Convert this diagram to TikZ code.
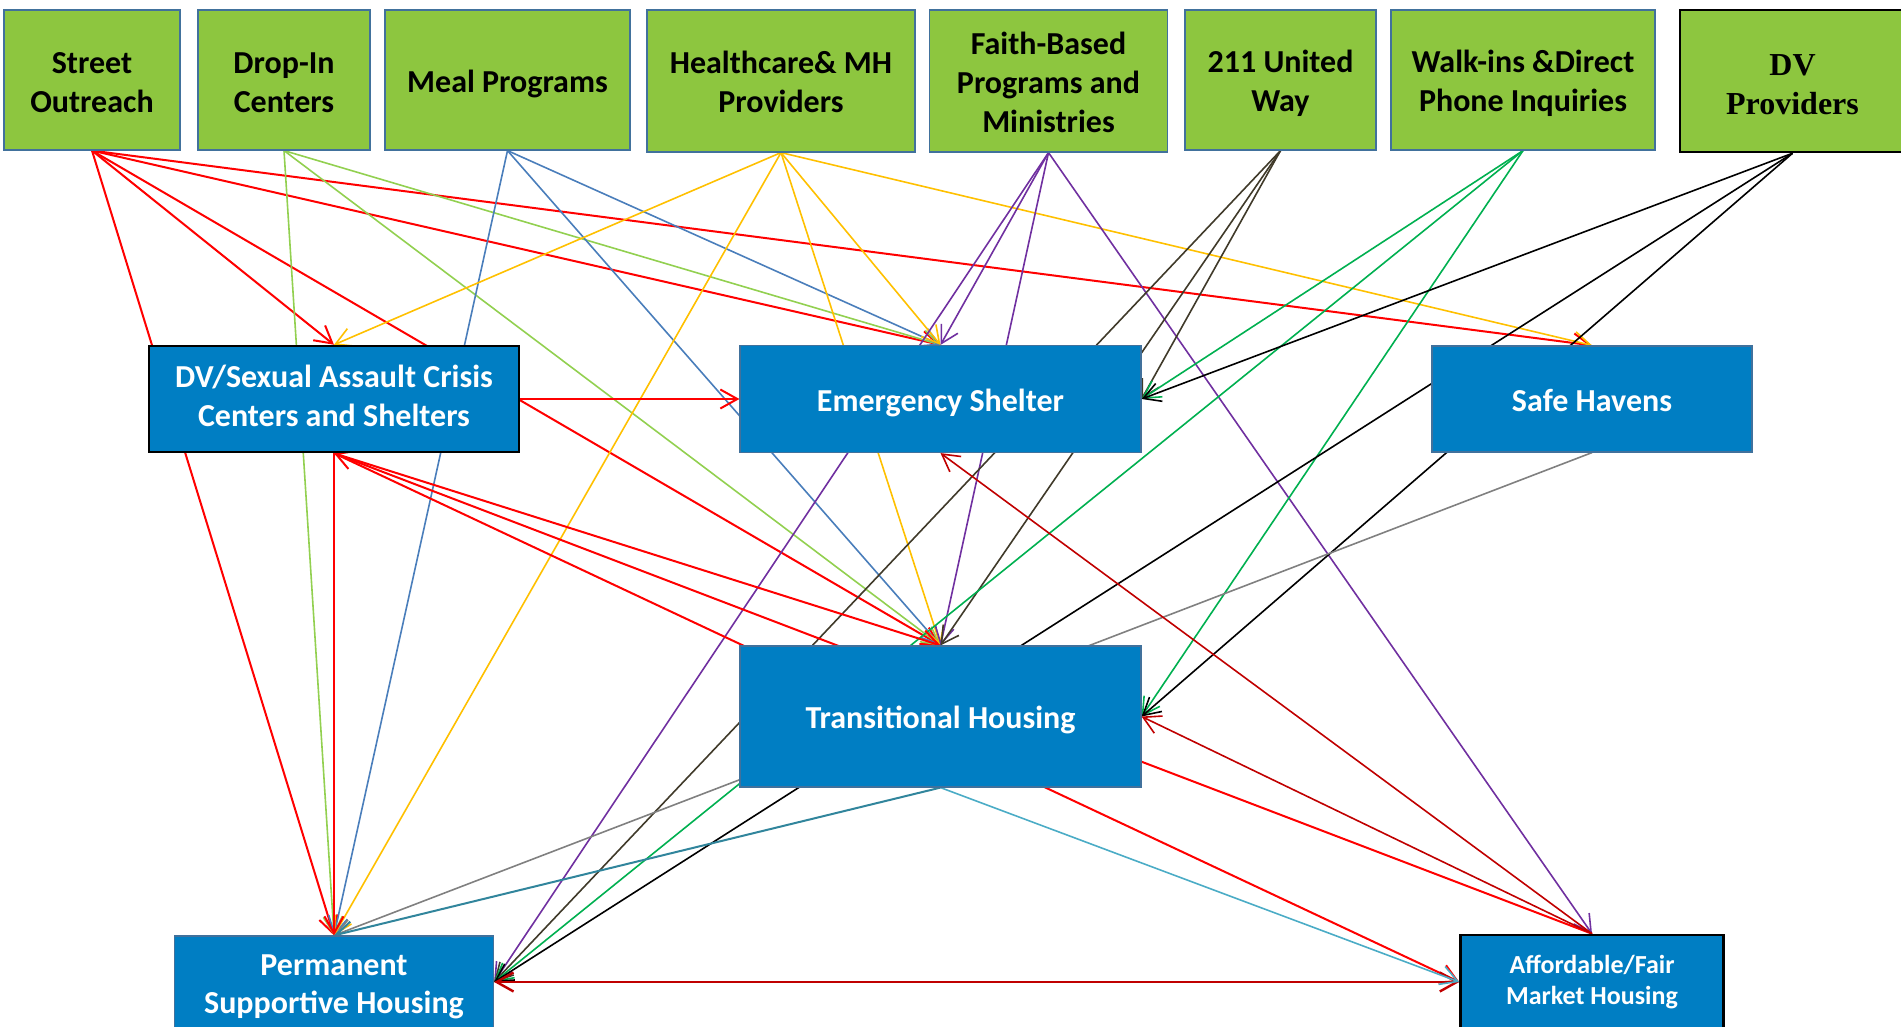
\documentclass[tikz,border=0pt]{standalone}
\usepackage{fontspec}
\setmainfont{Carlito}
\newfontfamily\dvfont{Liberation Serif}
\usepackage{tikz}
\usetikzlibrary{arrows.meta,positioning,backgrounds}
\definecolor{srcgreen}{RGB}{141,198,63}
\definecolor{svcblue}{RGB}{0,126,195}
\definecolor{boxedge}{RGB}{65,113,156}
\definecolor{lnred}{RGB}{255,0,0}
\definecolor{lndred}{RGB}{192,0,0}
\definecolor{lnlgreen}{RGB}{146,208,80}
\definecolor{lnblue}{RGB}{74,126,187}
\definecolor{lnamber}{RGB}{255,192,0}
\definecolor{lnpurple}{RGB}{112,48,160}
\definecolor{lnolive}{RGB}{64,58,42}
\definecolor{lngreen}{RGB}{0,176,80}
\definecolor{lngray}{RGB}{128,128,128}
\definecolor{lnteal}{RGB}{49,133,156}
\definecolor{lnsky}{RGB}{75,172,198}
\newcommand{\tstrut}[1]{\rule{0pt}{#1pt}}
\newcommand{\bstrut}[1]{\rule[-#1pt]{0pt}{0pt}}
\tikzstyle{source} = [rectangle, inner sep=0pt, text centered, align=center, draw=boxedge, line width=1.2pt, fill=srcgreen, font=\fontsize{32}{39}\selectfont\bfseries]
\tikzstyle{service} = [rectangle, inner sep=0pt, text centered, align=center, draw=boxedge, line width=1.2pt, fill=svcblue, text=white, font=\fontsize{32}{39}\selectfont\bfseries]
\tikzstyle{arrow} = [->, >={Straight Barb[length=17pt,width=19pt]}, line width=1.6pt]

\begin{document}
\begin{tikzpicture}[x=1pt, y=-1pt, node distance=240pt]
\useasboundingbox (0,0) rectangle (1901,1027);
\clip (0,0) rectangle (1901,1027);

% Nodes
\node (so) [source, minimum width=176pt, minimum height=140pt] at (92,80) {\tstrut{26}Street\\Outreach};
\node (di) [source, minimum width=172pt, minimum height=140pt, right of=so, xshift=-48pt] {\tstrut{26}Drop-In\\Centers};
\node (mp) [source, minimum width=245pt, minimum height=140pt, right of=di, xshift=-16.5pt] {\tstrut{29.5}Meal Programs};
\node (hc) [source, minimum width=268pt, minimum height=142pt, right of=mp, xshift=33.5pt, yshift=-1pt] {\tstrut{25}Healthcare\& MH\\Providers};
\node (fb) [source, minimum width=238pt, minimum height=142pt, right of=hc, xshift=27.5pt] {\tstrut{25}Faith-Based\\Programs and\\Ministries};
\node (uw) [source, minimum width=191pt, minimum height=140pt, right of=fb, xshift=-8pt, yshift=1pt] {\tstrut{29.5}211 United\\Way};
\node (wi) [source, minimum width=264pt, minimum height=140pt, right of=uw, xshift=2.5pt] {\tstrut{29.5}Walk-ins \&Direct\\Phone Inquiries};
\node (dvp) [source, draw=black, line width=2.5pt, minimum width=225pt, minimum height=142pt, right of=wi, xshift=29.5pt, yshift=-1pt, font=\dvfont\fontsize{32}{39}\selectfont\bfseries] {\tstrut{28.5}DV\\Providers};

\node (dv) [service, draw=black, line width=2.5pt, minimum width=370pt, minimum height=106pt, below of=di, xshift=50pt, yshift=-79pt] {DV/Sexual Assault Crisis\\Centers and Shelters\bstrut{7}};
\node (es) [service, minimum width=401pt, minimum height=107pt, right of=dv, xshift=366.5pt] {\tstrut{29.5}Emergency Shelter};
\node (sh) [service, minimum width=320pt, minimum height=106pt, right of=es, xshift=411.5pt] {\tstrut{25}Safe Havens};
\node (th) [service, minimum width=401pt, minimum height=141pt, below of=es, yshift=-77.5pt] {\tstrut{29.5}Transitional Housing};
\node (ph) [service, minimum width=319pt, minimum height=92pt, below of=dv, yshift=-343pt, font=\fontsize{32}{38}\selectfont\bfseries] {\tstrut{30}Permanent\\Supportive Housing};
\node (ah) [service, draw=black, line width=2.5pt, minimum width=263pt, minimum height=94pt, below of=sh, yshift=-343pt, font=\fontsize{26}{31}\selectfont\bfseries] {Affordable/Fair\\Market Housing};

% Arrows
\begin{pgfonlayer}{background}
\draw [arrow, lnred, line width=2pt] (so.south) -- (dv.north);
\draw [arrow, lnred, line width=2pt] (so.south) -- (ph.north);
\draw [arrow, lnred, line width=2pt] (so.south) -- (th.north);
\draw [arrow, lnred, line width=2pt] (so.south) -- (es.north);
\draw [arrow, lnred, line width=2pt] (so.south) -- (sh.north);

\draw [arrow, lnlgreen] (di.south) -- (ph.north);
\draw [arrow, lnlgreen] (di.south) -- (es.north);
\draw [arrow, lnlgreen] (di.south) -- (th.north);

\draw [arrow, lnblue] (mp.south) -- (ph.north);
\draw [arrow, lnblue] (mp.south) -- (es.north);
\draw [arrow, lnblue] (mp.south) -- (th.north);

\draw [arrow, lnamber] (hc.south) -- (dv.north);
\draw [arrow, lnamber] (hc.south) -- (ph.north);
\draw [arrow, lnamber] (hc.south) -- (es.north);
\draw [arrow, lnamber] (hc.south) -- (th.north);
\draw [arrow, lnamber] (hc.south) -- (sh.north);

\draw [arrow, lnpurple] (fb.south) -- (es.north);
\draw [arrow, lnpurple] (fb.south) -- (th.north);
\draw [arrow, lnpurple] (fb.south) -- (ph.east);
\draw [arrow, lnpurple] (fb.south) -- (ah.north);

\draw [arrow, lnolive] (uw.south) -- (es.east);
\draw [arrow, lnolive] (uw.south) -- (th.north);
\draw [arrow, lnolive] (uw.south) -- (ph.east);

\draw [arrow, lngreen] (wi.south) -- (es.east);
\draw [arrow, lngreen] (wi.south) -- (th.east);
\draw [arrow, lngreen] (wi.south) -- (ph.east);

\draw [arrow, black] (dvp.south) -- (es.east);
\draw [arrow, black] (dvp.south) -- (th.east);
\draw [arrow, black] (dvp.south) -- (ph.east);

\draw [arrow, lngray] (sh.south) -- (ph.north);

\draw [arrow, lnred, line width=2pt] (dv.east) -- (es.west);
\draw [arrow, lnred, line width=2pt] (dv.south) -- (ph.north);
\draw [arrow, lnred, line width=2pt] (dv.south) -- (th.north);
\draw [arrow, lnred, line width=2pt] (dv.south) -- (ah.west);
\draw [arrow, lnred, line width=2pt] (ah.north) -- (dv.south);

\draw [arrow, lndred] (ah.north) -- (es.south);
\draw [arrow, lndred] (ah.north) -- (th.east);
\draw [arrow, <->, lndred, line width=2.4pt] (ph.east) -- (ah.west);

\draw [arrow, lnteal, line width=2pt] (th.south) -- (ph.north);
\draw [arrow, lnsky] (th.south) -- (ah.west);
\end{pgfonlayer}

\end{tikzpicture}
\end{document}
